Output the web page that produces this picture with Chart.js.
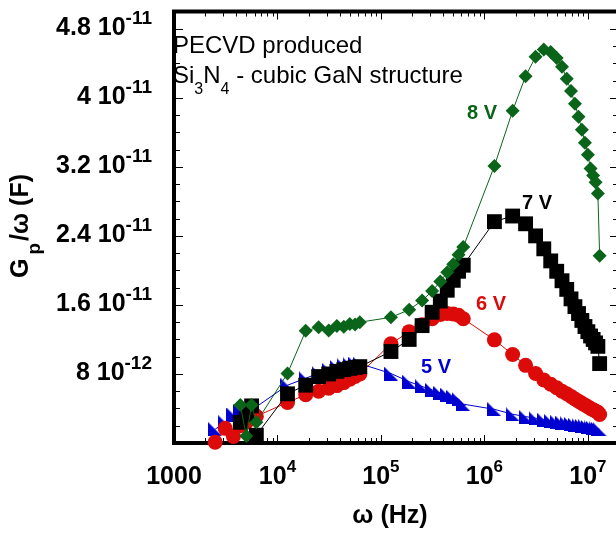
<!DOCTYPE html>
<html lang="en">
<head>
<meta charset="UTF-8">
<title>Gp/ω versus ω</title>
<script src="https://cdn.jsdelivr.net/npm/chart.js"></script>
<style>
  html, body { margin: 0; padding: 0; background: #fff; overflow: hidden; }
  #wrap { width: 616px; height: 534px; overflow: hidden; }
  canvas { display: block; }
</style>
</head>
<body>
<div id="wrap"><canvas id="gpChart" width="624" height="534"></canvas></div>
<script>
// angular frequency sweep (Hz)
const omega = [
  2500, 3125, 3750, 4375, 5000, 5625, 6250,
  12500, 18750, 25000, 31250, 37500, 43750, 50000, 56250, 62500,
  125000, 187500, 250000, 312500, 375000, 437500, 500000, 562500, 625000,
  1.25e6, 1.875e6, 2.5e6, 3.125e6, 3.75e6, 4.375e6, 5e6, 5.625e6, 6.25e6, 6.875e6,
  7.5e6, 8.125e6, 8.75e6, 9.375e6, 10e6, 10.625e6, 11.25e6, 11.875e6, 12.5e6, 13e6
];

// Gp/ω in units of 1e-11 F
const UNIT = 1e-11;
const g5V = [
  0.16, 0.24, 0.33, 0.37, 0.40, 0.43, 0.42,
  0.67, 0.75, 0.81, 0.85, 0.88, 0.90, 0.91, 0.92, 0.92,
  0.805, 0.71, 0.655, 0.615, 0.58, 0.56, 0.535, 0.51, 0.45,
  0.39, 0.333, 0.306, 0.287, 0.272, 0.258, 0.247, 0.237, 0.228, 0.220,
  0.212, 0.205, 0.198, 0.192, 0.186, 0.180, 0.175, 0.170, 0.165, 0.160
];
const g6V = [
  0.01, 0.17, 0.075, 0.20, 0.24, 0.28, 0.31,
  0.47, 0.56, 0.60, 0.635, 0.665, 0.70, 0.74, 0.77, 0.80,
  1.15, 1.29, 1.37, 1.44, 1.49, 1.50, 1.495, 1.48, 1.44,
  1.195, 1.025, 0.90, 0.805, 0.73, 0.68, 0.64, 0.60, 0.57, 0.54,
  0.51, 0.485, 0.46, 0.44, 0.42, 0.40, 0.385, 0.37, 0.355, 0.33
];
const g7V = [
  null, null, null, 0.24, 0.33, 0.43, 0.09,
  0.57, 0.67, 0.77, 0.80, 0.83, 0.85, 0.865, 0.875, 0.885,
  1.06, 1.20, 1.36, 1.515, 1.645, 1.77, 1.885, 1.99, 2.06,
  2.565, 2.63, 2.54, 2.40, 2.25, 2.11, 1.99, 1.88, 1.78, 1.67,
  1.58, 1.50, 1.42, 1.35, 1.29, 1.24, 1.20, 1.16, 1.12, 0.92
];
const g8V = [
  null, null, null, 0.44, 0.08, 0.44, 0.24,
  0.805, 1.30, 1.34, 1.305, 1.355, 1.347, 1.38, 1.373, 1.40,
  1.456, 1.544, 1.65, 1.76, 1.87, 1.98, 2.07, 2.18, 2.27,
  3.21, 3.85, 4.25, 4.475, 4.56, 4.53, 4.46, 4.36, 4.22, 4.08,
  3.93, 3.78, 3.63, 3.48, 3.34, 3.18, 3.10, 3.02, 2.89, 2.17
];

// tick labels
const xTickValues = [1000, 1e4, 1e5, 1e6, 1e7];
const xTickLabels = [['1000', ''], ['10', '4'], ['10', '5'], ['10', '6'], ['10', '7']];
const yTickValues = [0.8e-11, 1.6e-11, 2.4e-11, 3.2e-11, 4.0e-11, 4.8e-11];
const yTickLabels = [['8 10', '-12'], ['1.6 10', '-11'], ['2.4 10', '-11'],
                     ['3.2 10', '-11'], ['4 10', '-11'], ['4.8 10', '-11']];

const FONT = '"Liberation Sans", Arial, Helvetica, sans-serif';
const GREEN = '#0a6419';
const RED = '#dd0a0a';
const BLUE = '#0000d0';

function toPoints(vals) {
  return omega.map((f, i) => ({ x: f, y: vals[i] === null ? null : vals[i] * UNIT }));
}

// right-angle triangle marker (like the original plot)
function triMarker(color) {
  const c = document.createElement('canvas');
  c.width = 14; c.height = 14;
  const t = c.getContext('2d');
  t.fillStyle = color;
  t.beginPath();
  t.moveTo(0, 0);
  t.lineTo(0, 14);
  t.lineTo(14, 14);
  t.closePath();
  t.fill();
  return c;
}

function drawSup(ctx, main, exp, x, y, align, mainPx, expPx, rise) {
  ctx.font = 'bold ' + mainPx + 'px ' + FONT;
  const wm = ctx.measureText(main).width;
  ctx.font = 'bold ' + expPx + 'px ' + FONT;
  const we = exp ? ctx.measureText(exp).width : 0;
  const w = wm + we;
  let x0 = x;
  if (align === 'right') x0 = x - w;
  if (align === 'center') x0 = x - w / 2;
  ctx.textAlign = 'left';
  ctx.textBaseline = 'middle';
  ctx.font = 'bold ' + mainPx + 'px ' + FONT;
  ctx.fillText(main, x0, y);
  if (exp) {
    ctx.font = 'bold ' + expPx + 'px ' + FONT;
    ctx.fillText(exp, x0 + wm, y - rise);
  }
}

const decor = {
  id: 'decor',
  beforeDatasetsDraw(chart) {
    const ctx = chart.ctx;
    const a = chart.chartArea;
    const xs = chart.scales.x, ys = chart.scales.y;
    ctx.save();
    ctx.strokeStyle = '#000';
    // inward ticks
    ctx.lineWidth = 1;
    ctx.beginPath();
    for (let d = 3; d <= 7; d++) {
      for (let m = 1; m <= 9; m++) {
        const f = m * Math.pow(10, d);
        if (f < xs.min || f > xs.max) continue;
        const px = Math.round(xs.getPixelForValue(f)) + 0.5;
        const len = m === 1 ? 8 : 5;
        ctx.moveTo(px, a.bottom); ctx.lineTo(px, a.bottom - len);
        ctx.moveTo(px, a.top); ctx.lineTo(px, a.top + len);
      }
    }
    for (let k = 1; k < 25; k++) {
      const v = k * 0.2e-11;
      const py = Math.round(ys.getPixelForValue(v)) + 0.5;
      const len = k % 4 === 0 ? 9 : 6;
      ctx.moveTo(a.left, py); ctx.lineTo(a.left + len, py);
      ctx.moveTo(a.right, py); ctx.lineTo(a.right - len, py);
    }
    ctx.stroke();
    // frame
    ctx.lineWidth = 4;
    ctx.strokeRect(a.left, a.top, a.right - a.left, a.bottom - a.top);
    ctx.restore();
  },
  afterDraw(chart) {
    const ctx = chart.ctx;
    const xs = chart.scales.x, ys = chart.scales.y;
    ctx.save();
    ctx.fillStyle = '#000';
    // tick labels
    xTickValues.forEach((v, i) => {
      drawSup(ctx, xTickLabels[i][0], xTickLabels[i][1], xs.getPixelForValue(v), 477, 'center', 25, 17, 10);
    });
    yTickValues.forEach((v, i) => {
      drawSup(ctx, yTickLabels[i][0], yTickLabels[i][1], 152, ys.getPixelForValue(v) - 1, 'right', 25, 19, 9);
    });
    // axis titles
    ctx.font = 'bold 25px ' + FONT;
    ctx.textAlign = 'center';
    ctx.textBaseline = 'middle';
    ctx.fillText('\u03c9 (Hz)', 390, 516);

    ctx.save();
    ctx.translate(21, 278);
    ctx.rotate(-Math.PI / 2);
    ctx.textAlign = 'left';
    ctx.font = 'bold 25px ' + FONT;
    ctx.fillText('G', 0, 0);
    let lx = ctx.measureText('G').width + 4;
    ctx.font = 'bold 19px ' + FONT;
    ctx.fillText('p', lx, 14);
    lx += ctx.measureText('p').width + 2;
    ctx.font = 'bold 25px ' + FONT;
    ctx.fillText('/\u03c9 (F)', lx, 0);
    ctx.restore();

    // annotation
    ctx.textAlign = 'left';
    ctx.textBaseline = 'middle';
    ctx.font = '24px ' + FONT;
    ctx.fillText('PECVD produced', 173, 46);
    let tx = 173;
    const parts = [['Si', 24, 0], ['3', 16, 14], ['N', 24, 0], ['4', 16, 14], [' - cubic GaN structure', 24, 0]];
    parts.forEach(p => {
      ctx.font = p[1] + 'px ' + FONT;
      ctx.fillText(p[0], tx, 76 + p[2]);
      tx += ctx.measureText(p[0]).width;
    });

    // curve labels
    ctx.font = 'bold 20px ' + FONT;
    ctx.textAlign = 'center';
    ctx.fillStyle = GREEN; ctx.fillText('8 V', 482, 113);
    ctx.fillStyle = '#000'; ctx.fillText('7 V', 537, 203);
    ctx.fillStyle = RED; ctx.fillText('6 V', 491, 304);
    ctx.fillStyle = BLUE; ctx.fillText('5 V', 436, 367);
    ctx.restore();
  }
};

const common = { showLine: true, borderWidth: 1, pointBorderWidth: 0, clip: false };

new Chart(document.getElementById('gpChart'), {
  type: 'line',
  data: {
    datasets: [
      Object.assign({ label: '8 V', data: toPoints(g8V), borderColor: GREEN, backgroundColor: GREEN,
        pointStyle: 'rectRot', pointRadius: 7 }, common),
      Object.assign({ label: '7 V', data: toPoints(g7V), borderColor: '#000', backgroundColor: '#000',
        pointStyle: 'rect', pointRadius: 10.5 }, common),
      Object.assign({ label: '6 V', data: toPoints(g6V), borderColor: RED, backgroundColor: RED,
        pointStyle: 'circle', pointRadius: 7.5 }, common),
      Object.assign({ label: '5 V', data: toPoints(g5V), borderColor: BLUE, backgroundColor: BLUE,
        pointStyle: triMarker(BLUE), pointRadius: 7 }, common)
    ]
  },
  options: {
    responsive: false,
    animation: false,
    events: [],
    layout: { autoPadding: false, padding: { left: 166, top: 11.5, right: 5, bottom: 83 } },
    plugins: { legend: { display: false }, tooltip: { enabled: false } },
    scales: {
      x: {
        type: 'logarithmic', min: 1000, max: 2e7,
        grid: { display: false }, border: { display: false },
        ticks: { display: false }
      },
      y: {
        type: 'linear', min: 0, max: 5e-11,
        grid: { display: false }, border: { display: false },
        ticks: { display: false }
      }
    }
  },
  plugins: [decor]
});
</script>
</body>
</html>
